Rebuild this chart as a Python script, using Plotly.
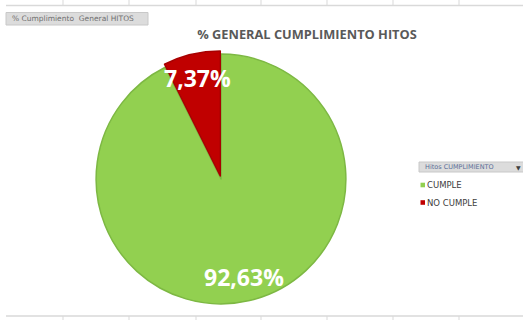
import math
import plotly.graph_objects as go

labels = ["CUMPLE", "NO CUMPLE"]
values = [92.63, 7.37]
colors = ["#92D050", "#C00000"]
line_colors = ["#7DB843", "#A80000"]
pulls = [0, 0.025]

title_text = "% GENERAL CUMPLIMIENTO HITOS"
field_button = "% Cumplimiento  General HITOS"
legend_header = "Hitos CUMPLIMIENTO"

W, H = 523, 320
dom_x = [93 / W, 349 / W]
dom_y = [13 / H, 269 / H]

fig = go.Figure()
fig.add_trace(go.Pie(
    labels=labels, values=values, sort=False, direction="clockwise", rotation=0,
    marker=dict(colors=colors, line=dict(color=line_colors, width=1.5)),
    pull=pulls, textinfo="none", showlegend=False,
    domain=dict(x=dom_x, y=dom_y),
    hoverinfo="skip",
))

# percentage labels placed along each slice's mid angle (derived from values)
cx_px = (dom_x[0] + dom_x[1]) / 2 * W
cy_px = (dom_y[0] + dom_y[1]) / 2 * H
R = (dom_x[1] - dom_x[0]) * W / 2 / (1 + max(pulls))
total = sum(values)
annotations = []
start = 0.0
for lab, v, p in zip(labels, values, pulls):
    frac = v / total
    mid = (start + frac / 2) * 2 * math.pi  # clockwise from 12 o'clock
    start += frac
    r = R * (0.81 + p)
    x = cx_px + r * math.sin(mid)
    y = cy_px + r * math.cos(mid)
    txt = f"{frac * 100:.2f}%".replace(".", ",")
    annotations.append(dict(text=txt, xref="paper", yref="paper", x=x / W, y=y / H,
                            xanchor="center", yanchor="middle", showarrow=False,
                            font=dict(family="Open Sans", size=23, color="white", weight="bold")))

shapes = []
# worksheet grid lines (top and bottom)
gc = "#D9D9D9"
for yy in (5.5, 316):
    shapes.append(dict(type="line", xref="paper", yref="paper", x0=6 / W, x1=1,
                       y0=1 - yy / H, y1=1 - yy / H, line=dict(color=gc, width=1.5)))
for xx in (63, 129, 196, 261, 327, 393, 459):
    shapes.append(dict(type="line", xref="paper", yref="paper", x0=xx / W, x1=xx / W,
                       y0=1, y1=1 - 5 / H, line=dict(color=gc, width=1)))
    shapes.append(dict(type="line", xref="paper", yref="paper", x0=xx / W, x1=xx / W,
                       y0=1 - 316 / H, y1=0, line=dict(color=gc, width=1)))
# field button
shapes.append(dict(type="rect", xref="paper", yref="paper", x0=6 / W, x1=148 / W,
                   y0=1 - 25 / H, y1=1 - 12.5 / H, fillcolor="#DCDCDC",
                   line=dict(color="#C8C8C8", width=1)))
# legend header
shapes.append(dict(type="rect", xref="paper", yref="paper", x0=419 / W, x1=1.02,
                   y0=1 - 172 / H, y1=1 - 162 / H, fillcolor="#DCDCDC",
                   line=dict(color="#C8C8C8", width=1)))

annotations += [
    dict(text=field_button, xref="paper", yref="paper", x=10 / W, y=1 - 18.7 / H,
         xanchor="left", yanchor="middle", showarrow=False,
         font=dict(family="Liberation Sans Narrow, DejaVu Sans", size=7.5, color="#707070")),
    dict(text=legend_header, xref="paper", yref="paper", x=423 / W, y=1 - 167 / H,
         xanchor="left", yanchor="middle", showarrow=False,
         font=dict(family="DejaVu Sans", size=6.5, color="#5A6E98")),
    dict(text="▼", xref="paper", yref="paper", x=523 / W, y=1 - 167 / H,
         xanchor="right", yanchor="middle", showarrow=False,
         font=dict(family="DejaVu Sans", size=6, color="#404040")),
]

# legend items (small squares + labels, Excel-style)
for i, (lab, col) in enumerate(zip(labels, colors)):
    yc = 185 + i * 17.5
    shapes.append(dict(type="rect", xref="paper", yref="paper", x0=420.5 / W, x1=425 / W,
                       y0=1 - (yc + 2.3) / H, y1=1 - (yc - 2.3) / H, fillcolor=col,
                       line=dict(width=0)))
    annotations.append(dict(text=lab, xref="paper", yref="paper", x=424.5 / W, y=1 - yc / H,
                            xanchor="left", yanchor="middle", showarrow=False,
                            font=dict(family="Liberation Sans Narrow, DejaVu Sans", size=8.5,
                                      color="#404040")))

fig.update_layout(
    width=W, height=H, margin=dict(l=0, r=0, t=0, b=0),
    paper_bgcolor="white", plot_bgcolor="white",
    title=dict(text=title_text, x=307 / W, xanchor="center", y=1 - 35 / H, yanchor="middle",
               font=dict(family="Open Sans", size=12.8, color="#595959", weight="bold")),
    showlegend=False,
    shapes=shapes, annotations=annotations,
)

fig.write_html("out.html")
